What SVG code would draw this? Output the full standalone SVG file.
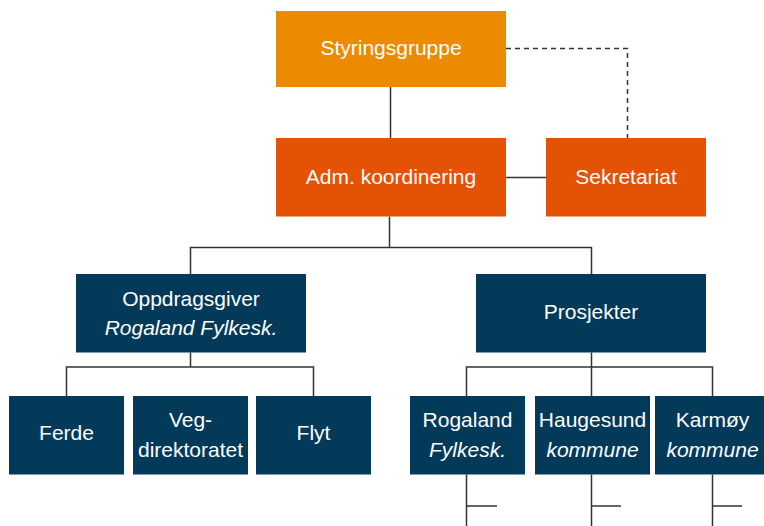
<svg xmlns="http://www.w3.org/2000/svg" width="764" height="526" viewBox="0 0 764 526">
<style>
.t{font-family:"Liberation Sans",Arial,sans-serif;font-size:21px;fill:#ffffff;text-anchor:middle}
.i{font-style:italic}
.navy{fill:#033a5a}
.or1{fill:#ec8b00}
.or2{fill:#e35205}
.ln{fill:none;stroke:#333333;stroke-width:1.5}
.dash{fill:none;stroke:#333333;stroke-width:1.5;stroke-dasharray:5 4}
</style>
<rect width="764" height="526" fill="#ffffff"/>
<g id="connectors">
<path class="ln" d="M390.5 87V138"/>
<path class="dash" d="M506 48.5H627.5V138"/>
<path class="ln" d="M506 177.5H546"/>
<path class="ln" d="M389.5 216.5V247.5M190.5 274V247.5H591.5V274"/>
<path class="ln" d="M190.5 352.5V367M66.5 396V367H313.5V396"/>
<path class="ln" d="M591.5 352.5V367M466.5 396V367H712.5V396M591.5 367V396"/>
<path class="ln" d="M466.5 474.5V526M466.5 506H497"/>
<path class="ln" d="M591.5 474.5V526M591.5 506H621"/>
<path class="ln" d="M712.5 474.5V526M712.5 506H742"/>
</g>
<g id="styringsgruppe"><rect class="or1" x="276" y="11" width="230" height="76"/><text class="t" x="391" y="54.5">Styringsgruppe</text></g>
<g id="adm"><rect class="or2" x="276" y="138" width="230" height="78.5"/><text class="t" x="391" y="183.5">Adm. koordinering</text></g>
<g id="sekretariat"><rect class="or2" x="546" y="138" width="160" height="78.5"/><text class="t" x="626" y="183.5">Sekretariat</text></g>
<g id="oppdragsgiver"><rect class="navy" x="76" y="274" width="230" height="78.5"/><text class="t" x="191" y="306">Oppdragsgiver</text><text class="t i" x="191" y="335">Rogaland Fylkesk.</text></g>
<g id="prosjekter"><rect class="navy" x="476" y="274" width="230" height="78.5"/><text class="t" x="591" y="319">Prosjekter</text></g>
<g id="ferde"><rect class="navy" x="9" y="396" width="115" height="78.5"/><text class="t" x="66.5" y="440">Ferde</text></g>
<g id="vegdirektoratet"><rect class="navy" x="133" y="396" width="115" height="78.5"/><text class="t" x="190.5" y="427">Veg-</text><text class="t" x="190.5" y="456.5">direktoratet</text></g>
<g id="flyt"><rect class="navy" x="256" y="396" width="115" height="78.5"/><text class="t" x="313.5" y="440">Flyt</text></g>
<g id="rogaland"><rect class="navy" x="410" y="396" width="115" height="78.5"/><text class="t" x="467.5" y="427">Rogaland</text><text class="t i" x="467.5" y="456.5">Fylkesk.</text></g>
<g id="haugesund"><rect class="navy" x="535" y="396" width="115" height="78.5"/><text class="t" x="592.5" y="427">Haugesund</text><text class="t i" x="592.5" y="456.5">kommune</text></g>
<g id="karmoy"><rect class="navy" x="655" y="396" width="115" height="78.5"/><text class="t" x="712.5" y="427">Karmøy</text><text class="t i" x="712.5" y="456.5">kommune</text></g>
</svg>
